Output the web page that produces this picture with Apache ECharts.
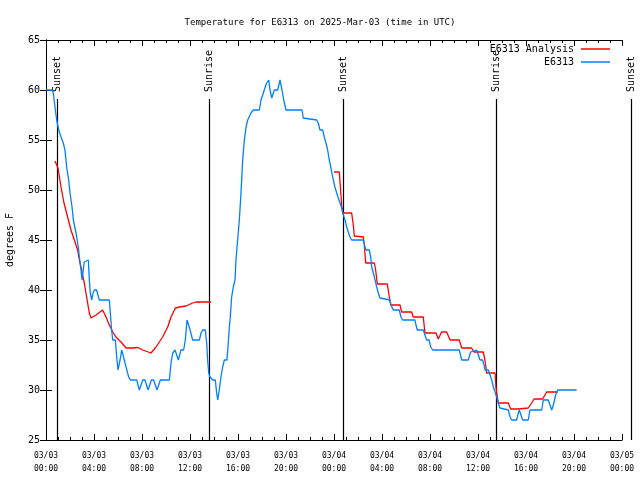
<!DOCTYPE html>
<html>
<head>
<meta charset="utf-8">
<script src="https://cdn.jsdelivr.net/npm/echarts@6/dist/echarts.min.js"></script>
<style>html,body{margin:0;padding:0;background:#fff;}#c{width:640px;height:480px;}</style>
</head>
<body>
<div id="c"></div>
<script>
// hours since 2025-03-03 00:00 UTC
const obsHours = [0,0.5,0.61,0.78,0.89,1.06,1.25,1.44,1.58,1.72,1.89,2.0,2.17,2.28,2.5,2.69,2.78,2.92,3.0,3.19,3.28,3.53,3.61,3.69,3.81,3.92,4.03,4.22,4.44,5.28,5.36,5.47,5.56,5.78,5.89,6.0,6.17,6.31,6.46,6.67,6.89,7.03,7.56,7.78,8.06,8.25,8.5,8.78,8.97,9.25,9.53,10.28,10.42,10.56,10.75,11.03,11.25,11.47,11.61,11.75,11.94,12.22,12.5,12.78,12.92,13.06,13.28,13.39,13.47,13.56,13.67,13.89,14.11,14.22,14.31,14.44,14.58,14.72,14.86,15.08,15.19,15.28,15.36,15.47,15.61,15.75,15.83,15.97,16.11,16.25,16.39,16.53,16.67,16.81,17.08,17.28,17.78,17.92,18.19,18.39,18.56,18.67,18.81,19.03,19.31,19.5,19.67,19.81,20.0,21.33,21.44,21.58,22.56,22.69,22.83,23.06,23.19,23.33,23.47,23.61,23.81,23.94,24.08,24.22,24.36,24.5,24.64,24.78,24.92,25.06,25.19,25.33,25.47,26.44,26.58,26.67,26.94,27.06,27.14,27.28,27.42,27.56,27.69,27.83,27.97,28.67,28.75,28.94,29.44,29.58,29.72,30.75,30.83,30.94,31.44,31.58,31.72,31.92,32.06,32.22,34.44,34.64,35.19,35.39,35.53,35.89,36.03,36.17,36.39,36.5,36.58,36.86,37.0,37.14,37.28,37.42,37.56,37.69,37.83,37.97,38.53,38.67,38.81,39.22,39.36,39.44,39.58,39.72,40.19,40.33,41.31,41.44,41.86,42.0,42.14,42.28,42.47,42.64,44.22];
const obsTemps = [60,60,59.7,58,57,56,55.3,54.7,54,52.3,51,49.7,48.3,47,45.7,44.3,43.3,42,41,42.8,43,43,41,39.7,39,39.7,40,40,39,39,37.7,36,35,35,33.3,32,33,34,33.3,32.3,31.3,31,31,30,31,31,30,31,31,30,31,31,32.7,33.7,34,33,34,34,35,37,36.3,35,35,35,35.7,36,36,34.7,33,31.7,31.3,31,31,29.7,29,30,31.3,32.3,33,33,34.7,36.3,37.3,39.3,40.3,41,43,45,47,49.7,53,55,56.3,57,57.7,58,58,59,60,60.7,61,60,59.2,60,60,61,60,59,58,58,57.2,57,57,56.7,56,56,55.3,54.7,54,53,51.8,51,50.3,49.7,49.2,48.7,48.2,47.5,47,46.3,45.8,45.3,45,45,44.3,44,44,43.3,42.3,41.7,41,40.3,39.7,39.2,39,39,38.5,38,38,37.3,37,37,36.5,36,36,35.5,35,35,34.3,34,34,33,33,33.8,34,34,33.5,33,33,32.5,32,32,31.5,31,30.3,29.8,29.3,28.7,28.2,28,28,27.3,27,27,27.7,28,27.5,27,27,28,28,29,29,28.5,28,28.5,29.5,30,30];

const anaHours = [0.75,1.0,1.25,1.5,1.8,2.08,2.36,2.64,2.78,2.97,3.19,3.33,3.47,3.61,3.75,4.17,4.72,5.0,5.28,5.56,5.83,6.25,6.67,7.22,7.64,8.06,8.75,9.17,9.72,10.14,10.42,10.78,11.11,11.67,12.22,12.5,13.75,
  18.0,
  24.0,24.44,24.56,24.64,24.72,25.47,25.61,25.69,26.44,26.53,26.64,27.36,27.47,27.61,28.44,28.61,28.72,29.5,29.64,30.47,30.61,31.44,31.58,32.5,32.69,32.97,33.39,33.67,34.44,34.64,35.47,35.67,36.44,36.58,36.72,37.42,37.5,37.69,38.53,38.72,39.36,39.5,40.19,40.47,40.67,41.39,41.72,42.64];
const anaTemps = [52.9,52.2,50.3,48.7,47.3,46,45,44,43,42,40.7,39.7,38.7,37.7,37.2,37.5,38,37.3,36.5,35.8,35.3,34.8,34.2,34.2,34.25,34,33.7,34.3,35.3,36.3,37.3,38.2,38.3,38.4,38.7,38.8,38.8,
  null,
  51.8,51.8,49.8,48.5,47.7,47.7,46.5,45.4,45.3,44.5,42.7,42.7,42,40.6,40.6,39.3,38.5,38.5,37.8,37.8,37.3,37.3,35.7,35.7,35.1,35.8,35.8,35,35,34.2,34.2,33.8,33.8,33,31.7,31.7,30.2,28.7,28.7,28.1,28.1,28.2,28.2,28.7,29.1,29.1,29.8,29.8];

const sunHours = [0.89, 13.61, 24.75, 37.5, 48.75];
const sunLabels = ['Sunset', 'Sunrise', 'Sunset', 'Sunrise', 'Sunset'];
const sunLineTop = 59.1;
const sunLabelBase = 59.8;

const xTickLabels = ['03/03\n00:00','03/03\n04:00','03/03\n08:00','03/03\n12:00','03/03\n16:00','03/03\n20:00','03/04\n00:00','03/04\n04:00','03/04\n08:00','03/04\n12:00','03/04\n16:00','03/04\n20:00','03/05\n00:00'];

const MONO = '"DejaVu Sans Mono", "Liberation Mono", monospace';

const chart = echarts.init(document.getElementById('c'), null, {renderer: 'canvas'});

const axisLineStyle = {show: true, lineStyle: {color: '#000', width: 1}};
const xBase = {
  type: 'value', min: 0, max: 48, interval: 4,
  axisLine: axisLineStyle,
  axisTick: {show: true, inside: true, length: 6, lineStyle: {color: '#000'}},
  minorTick: {show: true, splitNumber: 4, length: 3, lineStyle: {color: '#000'}},
  splitLine: {show: false}
};
const yBase = {
  type: 'value', min: 25, max: 65, interval: 5,
  axisLine: axisLineStyle,
  axisTick: {show: true, inside: true, length: 6, lineStyle: {color: '#000'}},
  splitLine: {show: false}
};

chart.setOption({
  animation: false,
  backgroundColor: '#fff',
  title: {
    text: 'Temperature for E6313 on 2025-Mar-03 (time in UTC)',
    left: 'center', top: 13,
    textStyle: {fontFamily: MONO, fontSize: 9, fontWeight: 'normal', color: '#000'}
  },
  legend: {
    orient: 'vertical', right: 30, top: 44, align: 'right', padding: 0,
    itemWidth: 29, itemHeight: 1.5, itemGap: 3, icon: 'rect',
    textStyle: {fontFamily: MONO, fontSize: 10, color: '#000', padding: [0, 2, 0, 0]},
    data: ['E6313 Analysis', 'E6313']
  },
  grid: {left: 46, right: 18, top: 40, bottom: 40, containLabel: false, outerBoundsMode: 'none'},
  xAxis: [
    Object.assign({}, xBase, {
      position: 'bottom',
      axisLabel: {
        fontFamily: MONO, fontSize: 8, color: '#000', margin: 9, lineHeight: 13,
        formatter: v => xTickLabels[Math.round(v / 4)] || ''
      }
    }),
    Object.assign({}, xBase, {position: 'top', axisLabel: {show: false}})
  ],
  yAxis: [
    Object.assign({}, yBase, {
      position: 'left',
      name: 'degrees F', nameLocation: 'middle', nameGap: 31, nameRotate: 90,
      nameTextStyle: {fontFamily: MONO, fontSize: 10, color: '#000'},
      axisLabel: {fontFamily: MONO, fontSize: 10, color: '#000', margin: 6}
    }),
    Object.assign({}, yBase, {position: 'right', axisLabel: {show: false}})
  ],
  series: [
    {
      type: 'custom', name: 'sun', silent: true, clip: false, z: 1,
      data: sunHours.map((h, i) => [h, i]),
      renderItem: (params, api) => {
        const h = api.value(0);
        const i = api.value(1);
        const p0 = api.coord([h, 25]);
        const p1 = api.coord([h, sunLineTop]);
        const pl = api.coord([h, sunLabelBase]);
        return {
          type: 'group',
          children: [
            {type: 'line', shape: {x1: Math.round(p0[0]) + 0.5, y1: p0[1], x2: Math.round(p1[0]) + 0.5, y2: p1[1]},
             style: {stroke: '#000', lineWidth: 1.2}},
            {type: 'text', x: Math.round(pl[0]) + 0.5, y: pl[1], rotation: Math.PI / 2,
             style: {text: sunLabels[i], fill: '#000', font: '10px ' + MONO, align: 'left', verticalAlign: 'middle'}}
          ]
        };
      }
    },
    {
      type: 'line', name: 'E6313 Analysis', color: '#ff0000', symbol: 'none', z: 3,
      connectNulls: false,
      lineStyle: {width: 1.3, color: '#ff0000'},
      data: anaHours.map((h, i) => [h, anaTemps[i]])
    },
    {
      type: 'line', name: 'E6313', color: '#0080ff', symbol: 'none', z: 4,
      lineStyle: {width: 1.3, color: '#0080ff'},
      data: obsHours.map((h, i) => [h, obsTemps[i]])
    }
  ]
});
</script>
</body>
</html>
